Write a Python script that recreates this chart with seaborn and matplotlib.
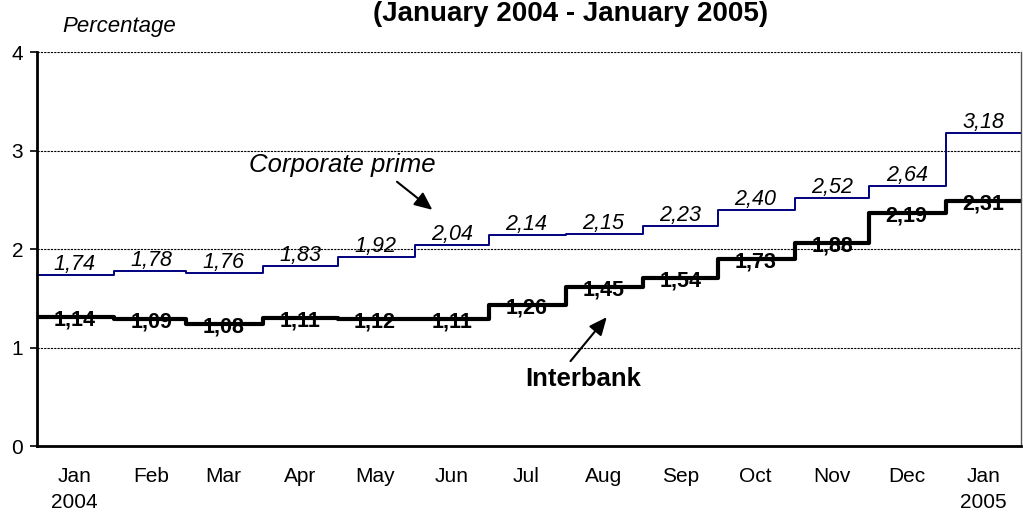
import pandas as pd
import matplotlib.pyplot as plt
import seaborn as sns

# Daten
months = pd.date_range("2004-01-01", periods=13, freq="MS")
month_labels = ["Jan\n2004", "Feb", "Mar", "Apr", "May", "Jun", "Jul",
                "Aug", "Sep", "Oct", "Nov", "Dec", "Jan\n2005"]
corporate = [1.74, 1.78, 1.76, 1.83, 1.92, 2.04, 2.14, 2.15, 2.23, 2.40, 2.52, 2.64, 3.18]
interbank_line = [1.31, 1.29, 1.24, 1.30, 1.29, 1.29, 1.43, 1.61, 1.71, 1.90, 2.06, 2.37, 2.49]
interbank_labels = [1.14, 1.09, 1.08, 1.11, 1.12, 1.11, 1.26, 1.45, 1.54, 1.73, 1.88, 2.19, 2.31]
end_date = pd.Timestamp("2005-01-31")


def fmt(v):
    return f"{v:.2f}".replace(".", ",")


def step_frame(values):
    # letzter Wert bis zum Achsenende verlaengern
    return pd.DataFrame({
        "date": list(months) + [end_date],
        "value": list(values) + [values[-1]],
    })


sns.set_theme(style="white")
plt.rcParams["font.family"] = ["Liberation Sans", "DejaVu Sans"]
plt.rcParams["text.color"] = "black"
plt.rcParams["xtick.color"] = "black"
plt.rcParams["ytick.color"] = "black"

fig = plt.figure(figsize=(10.23, 5.13), dpi=100)
ax = fig.add_axes([0.0362, 0.1306, 0.9618, 0.768])

sns.lineplot(data=step_frame(corporate), x="date", y="value", ax=ax,
             drawstyle="steps-post", color="#000080", linewidth=1.4, estimator=None)
sns.lineplot(data=step_frame(interbank_line), x="date", y="value", ax=ax,
             drawstyle="steps-post", color="black", linewidth=3.0, estimator=None)

mid = months + pd.Timedelta(days=15)
for x, v in zip(mid, corporate):
    ax.text(x, v + 0.05, fmt(v), ha="center", va="baseline",
            fontsize=15.5, style="italic", color="black")
for x, v, lab in zip(mid, interbank_line, interbank_labels):
    ax.text(x, v - 0.03, fmt(lab), ha="center", va="center",
            fontsize=15.5, fontweight="bold", color="black")

# Beschriftungen mit Pfeilen
arrow = dict(arrowstyle="-|>,head_length=0.9,head_width=0.4", color="black", lw=1.5)
ax.text(pd.Timestamp("2004-05-03"), 2.85, "Corporate prime", ha="center", va="center",
        fontsize=18.5, style="italic")
ax.annotate("", xy=(pd.Timestamp("2004-06-09"), 2.38), xytext=(pd.Timestamp("2004-05-24"), 2.70),
            arrowprops=arrow)
ax.text(pd.Timestamp("2004-08-08"), 0.68, "Interbank", ha="center", va="center",
        fontsize=18.5, fontweight="bold")
ax.annotate("", xy=(pd.Timestamp("2004-08-18"), 1.33), xytext=(pd.Timestamp("2004-08-02"), 0.84),
            arrowprops=arrow)

ax.set_xlim(months[0], end_date)
ax.set_ylim(0, 4)
ax.set_yticks([0, 1, 2, 3, 4])
ax.set_xticks(mid)
ax.set_xticklabels(month_labels)
for lbl in ax.get_xticklabels():
    lbl.set_linespacing(1.45)
ax.set_xlabel("")
ax.set_ylabel("")
ax.tick_params(axis="x", length=0, pad=15, labelsize=15)
ax.tick_params(axis="y", length=5, width=1.2, pad=5, labelsize=15, left=True)

for y in [1, 2, 3, 4]:
    ax.axhline(y, color="black", linestyle=(0, (2, 1)), linewidth=0.8, zorder=0)

ax.spines["top"].set_visible(False)
ax.spines["left"].set_color("black")
ax.spines["left"].set_linewidth(2)
ax.spines["bottom"].set_color("black")
ax.spines["bottom"].set_linewidth(2)
ax.spines["right"].set_color("#555555")
ax.spines["right"].set_linewidth(1)

fig.text(62 / 1023, 1 - 27 / 513, "Percentage", ha="left", va="center",
         fontsize=16, style="italic")
fig.text(571 / 1023, 1 - 1 / 513, "(January 2004 - January 2005)", ha="center", va="top",
         fontsize=20, fontweight="bold")

fig.savefig("out.png", dpi=100)
